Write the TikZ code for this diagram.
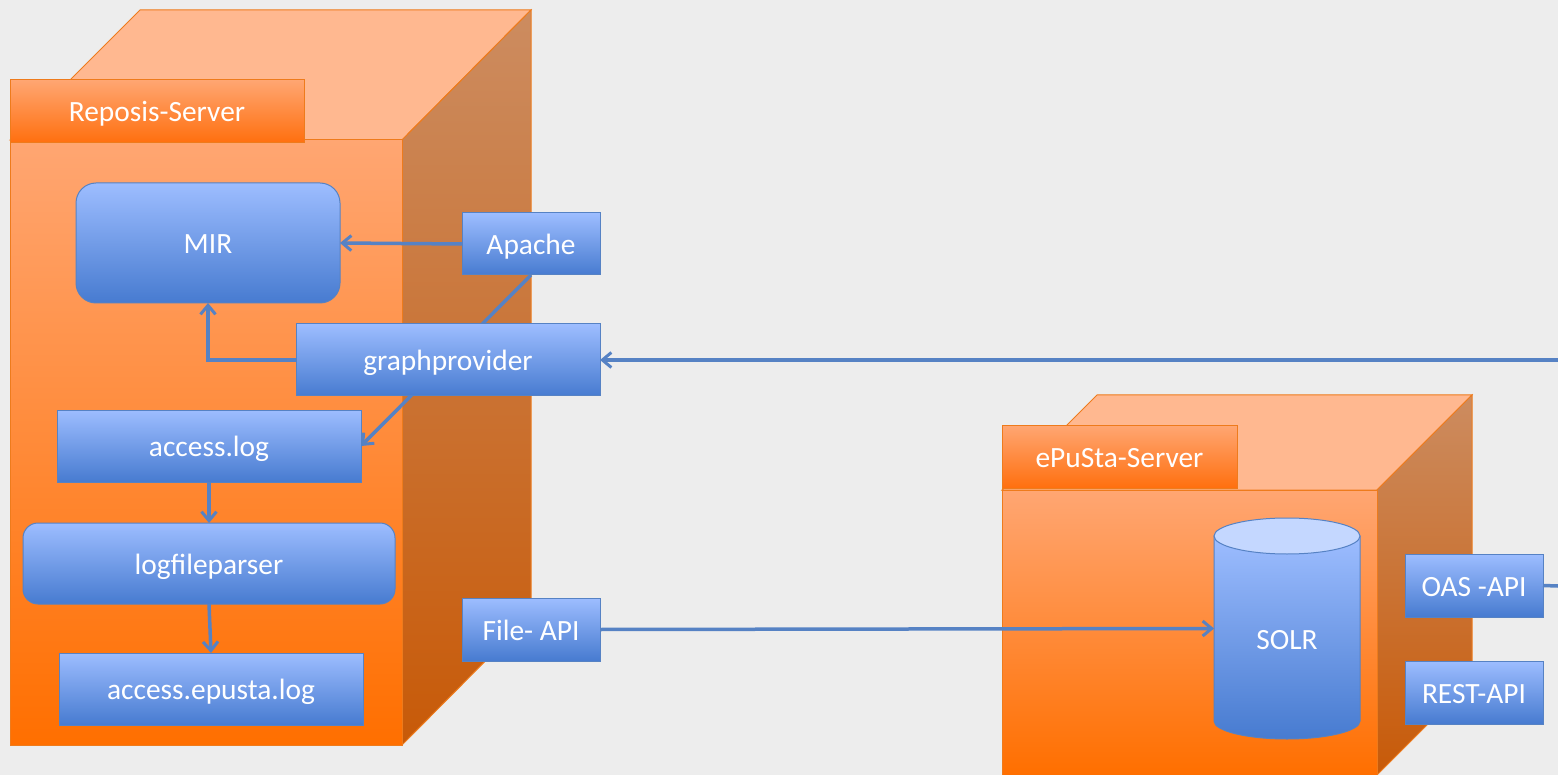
\documentclass[tikz,border=0pt]{standalone}
\usepackage{fontspec}
\setmainfont{Carlito}
\usepackage{tikz}
\usetikzlibrary{arrows.meta,shapes.geometric}
\definecolor{bluetop}{HTML}{9DBDFF}
\definecolor{bluebot}{HTML}{477BD0}
\definecolor{blueline}{HTML}{5682C4}
\definecolor{orangeline}{HTML}{EE7B1C}
\definecolor{orangetop}{HTML}{FFA672}
\definecolor{orangebot}{HTML}{FF6F00}
\definecolor{orangelid}{HTML}{FFB890}
\definecolor{orangetagtop}{HTML}{FFA672}
\definecolor{orangetagbot}{HTML}{FF6F0E}
\definecolor{sidetop}{HTML}{CC8C60}
\definecolor{sidebot}{HTML}{C85A08}

\begin{document}
\begin{tikzpicture}[x=1pt, y=-1pt, line width=1pt,
    txt/.style = {text=white, font=\fontsize{29.4}{34}\selectfont, text height=24pt, text depth=3pt, inner sep=0pt, outer sep=0pt},
    main/.style = {txt, draw=blueline, top color=bluetop, bottom color=bluebot},
    soft/.style = {main, rounded corners=20pt},
    tag/.style = {main, draw=orangeline, top color=orangetagtop, bottom color=orangetagbot},
    frontface/.style = {draw=orangeline, top color=orangetop, bottom color=orangebot},
    topface/.style = {draw=orangeline, fill=orangelid},
    sideface/.style = {draw=orangeline, top color=sidetop, bottom color=sidebot},
    link/.style = {draw=blueline, line width=3.5pt, -{Straight Barb[length=9pt,width=15pt,line width=3pt]}},
    plain link/.style = {draw=blueline, line width=3.5pt}]
\useasboundingbox (0,0) rectangle (1558,775);
\fill[white!93!black] (0,0) rectangle (1558,775);

% Reposis server
\draw[topface] (10,140) -- (140,10) -- (531,10) -- (402,140) -- cycle;
\draw[sideface] (402,140) -- (531,10) -- (531,615) -- (402,745) -- cycle;
\draw[frontface] (10,140) rectangle (402,745);
\node[tag, minimum width=294, minimum height=63] (reposis) at (157,111.5) {Reposis-Server};

% ePuSta server
\draw[topface] (1002,490) -- (1097,395) -- (1472,395) -- (1377,490) -- cycle;
\draw[sideface] (1377,490) -- (1472,395) -- (1472,680) -- (1377,775) -- cycle;
\draw[frontface] (1002,490) rectangle (1377,775);
\node[tag, minimum width=235, minimum height=63] (epusta) at (1119.5,457) {ePuSta-Server};

\node[soft, minimum width=264, minimum height=120] (mir) at (208,243) {MIR};
\node[main, minimum width=138, minimum height=62] (apache) at (531,244) {Apache};
\node[main, minimum width=304, minimum height=72] (accesslog) at (209,446) {access.log};

% runs behind graphprovider
\draw[link] (apache.south) -- (accesslog.east);

\node[main, minimum width=304, minimum height=72] (graph) at (448,360) {graphprovider};
\node[soft, rounded corners=15pt, minimum width=372, minimum height=81] (parser) at (209,563.5) {logfileparser};
\node[main, minimum width=304, minimum height=72] (epustalog) at (211,689) {access.epusta.log};
\node[main, minimum width=138, minimum height=63] (fileapi) at (531,629.5) {File- API};

% solr drum
\draw[draw=blueline, top color=bluetop, bottom color=bluebot] (1214,536) -- (1214,721) arc[start angle=180, end angle=0, x radius=73, y radius=18] -- (1360,536) -- cycle;
\node[ellipse, draw=blueline, fill=bluetop!60!white, minimum width=146, minimum height=36, inner sep=0pt] (solrlid) at (1287,536) {};
\node[inner sep=0pt, outer sep=0pt, minimum width=146, minimum height=221] (solr) at (1287,628.5) {};
\node[txt] (solrtext) at (1287,638.5) {SOLR};

\node[main, minimum width=138, minimum height=63] (oas) at (1474,585.5) {OAS -API};
\node[main, minimum width=138, minimum height=63] (rest) at (1474,692.5) {REST-API};

\coordinate (graphend) at (1558,360);
\coordinate (oasend) at (1558,586);

\draw[link] (apache.west) -- (mir.east);
\draw[link] (graph.west) -| (mir.south);
\draw[link] (accesslog.south) -- (parser.north);
\draw[link] (parser.south) -- (epustalog.north);
\draw[link] (fileapi.east) -- (solr.west);
\draw[link] (graphend) -- (graph.east);
\draw[plain link] (oas.east) -- (oasend);
\end{tikzpicture}
\end{document}
